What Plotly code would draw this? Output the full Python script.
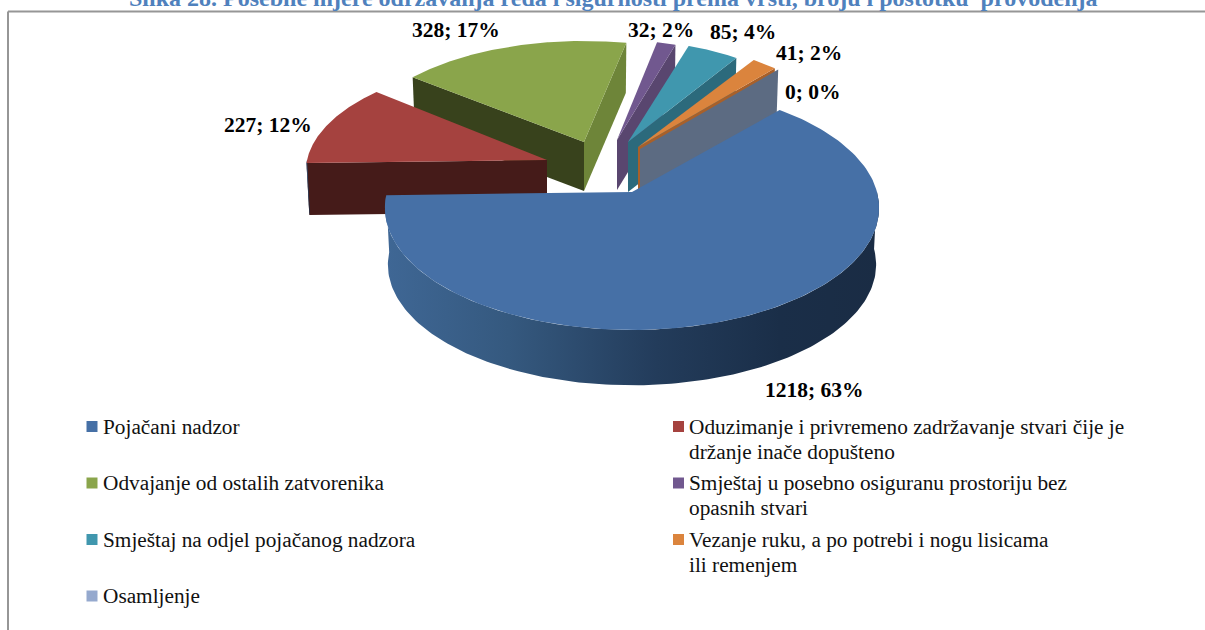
import numpy as np
import plotly.graph_objects as go

# ---------- data ----------
categories = ["Pojačani nadzor",
              "Oduzimanje i privremeno zadržavanje stvari čije je<br>držanje inače dopušteno",
              "Odvajanje od ostalih zatvorenika",
              "Smještaj u posebno osiguranu prostoriju bez<br>opasnih stvari",
              "Smještaj na odjel pojačanog nadzora",
              "Vezanje ruku, a po potrebi i nogu lisicama<br>ili remenjem",
              "Osamljenje"]
values = [1218, 227, 328, 32, 85, 41, 0]
title_text = "Slika 28. Posebne mjere održavanja reda i sigurnosti prema vrsti, broju i postotku  provođenja"

# ---------- styles ----------
top_colors = ["#4670a6", "#a5423f", "#8aa54b", "#71588f", "#4097ae", "#db843d", "#95a9ce"]
start_wall = ["#2b4668", "#451b19", "#38421c", "#4a3a60", "#2b6a7a", "#a8602a", "#5c6b82"]
end_wall = ["#2b4668", "#6b2b29", "#6e8539", "#59466f", "#2c6a7c", "#a8602a", "#5c6b82"]
start_angle = 41.4

# ---------- projection of each exploded slice (page pixels) ----------
apex_x = [632, 547, 584, 617, 628, 638, 640]
apex_y = [192, 160, 142, 140, 142, 147, 149]
rad_x = [245, 240, 223, 190, 195, 207, 209]
rad_y = [120, 111, 101, 100, 101, 105, 106]
persp = [0.13, 0.10, 0.0, 0.0, 0.0, 0.0, 0.0]
rotate = [0, 0, -1, 0, 0, 0, 0]
depth = [57, 52, 49, 50, 50, 50, 48]
WALL_SCALE = 0.988

total = sum(values)
fig = go.Figure()


def project(i, deg):
    t = np.radians(np.asarray(deg, dtype=float) + rotate[i])
    w = 1 + persp[i] * np.cos(t)
    return apex_x[i] + rad_x[i] * np.sin(t) / w, apex_y[i] - rad_y[i] * np.cos(t) / w


def lower(i, x, y):
    return (apex_x[i] + WALL_SCALE * (x - apex_x[i]),
            apex_y[i] + WALL_SCALE * (y - apex_y[i]) + depth[i])


def poly(xs, ys, color, **kw):
    fig.add_trace(go.Scatter(x=list(xs) + [xs[0]], y=list(ys) + [ys[0]], mode="lines",
                             fill="toself", fillcolor=color,
                             line=dict(width=0, color=color), hoverinfo="skip",
                             showlegend=False, **kw))


def radial_wall(i, deg, color):
    ex, ey = project(i, deg)
    bx, by = lower(i, ex, ey)
    poly([apex_x[i], float(ex), float(bx), apex_x[i]],
         [apex_y[i], float(ey), float(by), apex_y[i] + depth[i]], color)


# angular extent of each slice, clockwise from 12 o'clock
spans = []
a = start_angle
for v in values:
    b = a + 360.0 * v / total
    spans.append((a, b))
    a = b


def draw_slice(i):
    a0, a1 = spans[i]
    if np.sin(np.radians(a0)) < 0 and a1 > a0:
        radial_wall(i, a0, start_wall[i])
    if np.sin(np.radians(a1)) > 0:
        radial_wall(i, a1, end_wall[i])
    # outer rim, only where it faces the viewer
    lo, hi = max(a0, 90), min(a1, 270)
    if hi > lo:
        th = np.linspace(lo, hi, 160)
        tx, ty = project(i, th)
        bx, by = lower(i, tx, ty)
        fig.add_trace(go.Scatter(
            x=list(tx) + list(bx[::-1]) + [tx[0]],
            y=list(ty) + list(by[::-1]) + [ty[0]],
            mode="lines", fill="toself", line=dict(width=0), hoverinfo="skip", showlegend=False,
            fillgradient=dict(type="horizontal",
                              colorscale=[[0, "#3f6795"], [0.25, "#35597f"], [0.55, "#233c5b"],
                                          [0.8, "#1a2e48"], [1, "#1a2c44"]])))
    if a1 > a0:
        th = np.linspace(a0, a1, 160)
        tx, ty = project(i, th)
        poly([apex_x[i]] + list(tx), [apex_y[i]] + list(ty), top_colors[i])


# painter's order: far slices first, blue in front
for i in [2, 1, 3, 4, 5, 6, 0]:
    draw_slice(i)

# ---------- data labels ----------
label_x = [814, 268, 456, 661, 743, 809, 813]
label_y = [390, 125, 30, 30, 32, 53, 92]
for v, lx, ly in zip(values, label_x, label_y):
    fig.add_annotation(x=lx, y=ly, xref="x", yref="y", showarrow=False,
                       text=f"<b>{v}; {round(100 * v / total)}%</b>",
                       font=dict(family="Liberation Serif", size=21.5, color="#000000"))

# ---------- legend ----------
legend_x = [92, 678.5, 92, 678.5, 92, 678.5, 92]
legend_y = [426.5, 426.5, 483, 483, 539.5, 539.5, 596]
text_x = [100.5, 686.5, 100.5, 686.5, 100.5, 686.5, 100.5]
LINE_STEP = 25
fig.add_trace(go.Scatter(x=legend_x, y=legend_y, mode="markers", hoverinfo="skip", showlegend=False,
                         marker=dict(symbol="square", size=11, color=top_colors, line=dict(width=0))))
for cat, tx_, ly in zip(categories, text_x, legend_y):
    for n, part in enumerate(cat.split("<br>")):
        fig.add_annotation(x=tx_, y=ly + n * LINE_STEP, xref="x", yref="y", showarrow=False,
                           xanchor="left", yanchor="middle", align="left", text=part,
                           font=dict(family="Liberation Serif", size=21.3, color="#111111"))

# ---------- title and frame ----------
fig.add_annotation(x=612.5, y=13, xref="x", yref="y", showarrow=False, yanchor="bottom",
                   text=f"<b>{title_text}</b>",
                   font=dict(family="Liberation Serif", size=24, color="#4f81bd"))
frame = dict(color="#969696", width=2)
fig.add_shape(type="line", x0=8, x1=1205, y0=11.5, y1=11.5, xref="x", yref="y", line=frame)
fig.add_shape(type="line", x0=8, x1=8, y0=11.5, y1=630, xref="x", yref="y", line=frame)

fig.update_layout(width=1205, height=630, margin=dict(l=0, r=0, t=0, b=0),
                  paper_bgcolor="white", plot_bgcolor="white", showlegend=False,
                  xaxis=dict(range=[0, 1205], visible=False, fixedrange=True),
                  yaxis=dict(range=[630, 0], visible=False, fixedrange=True))
fig.write_html("out.html", config={"displayModeBar": False},
               post_script="document.body.style.margin='0';document.body.style.overflow='hidden';")
